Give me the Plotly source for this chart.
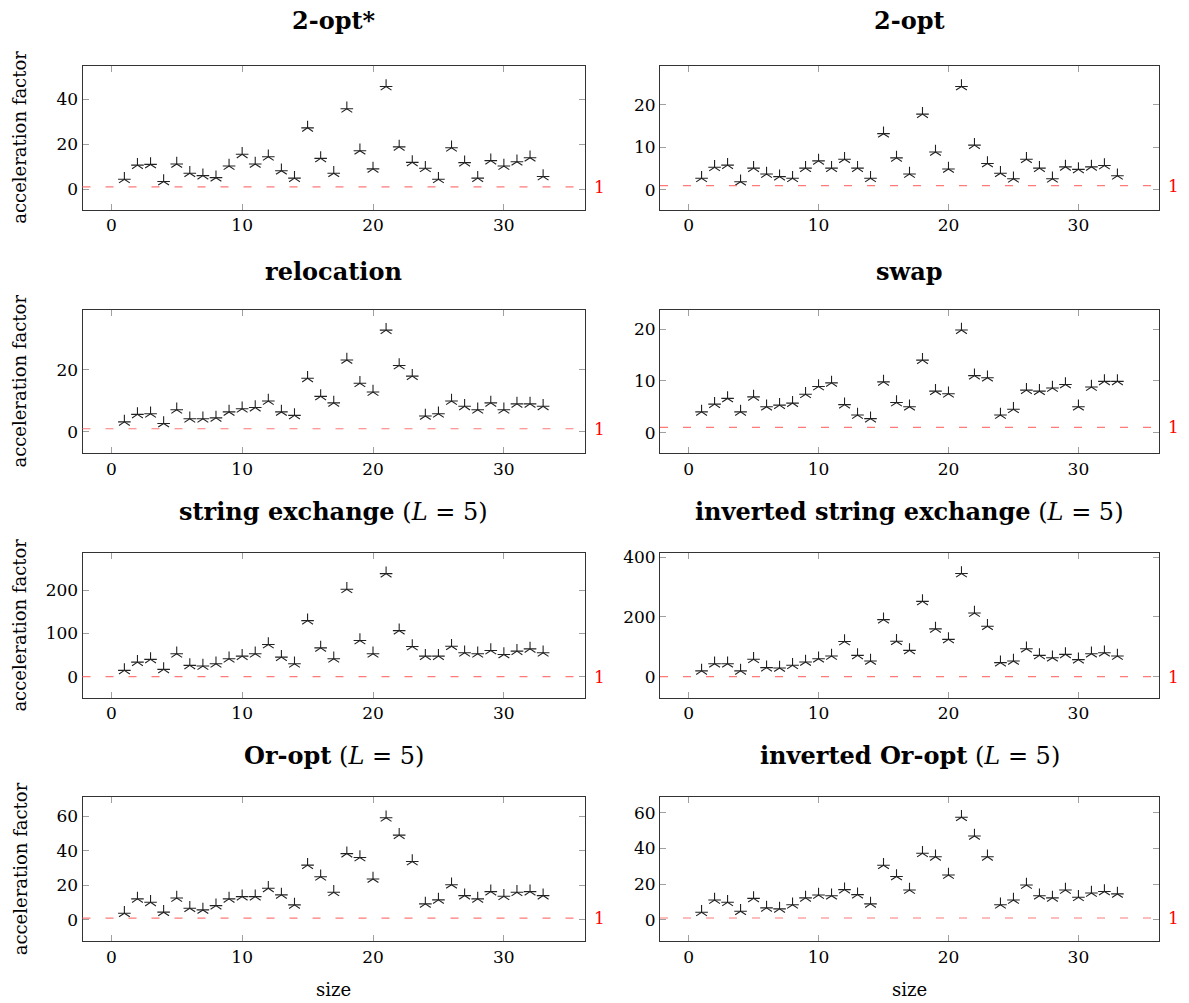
import plotly.graph_objects as go

# ---------------- data ----------------
sizes = list(range(1, 34))

two_opt_star = [4.4, 10.7, 11.0, 3.4, 11.2, 7.1, 6.0, 5.1, 10.3, 15.5, 11.2, 14.4, 8.2, 4.9, 27.3, 13.7, 7.1,
                35.8, 17.1, 9.0, 45.7, 18.8, 11.9, 9.3, 4.4, 18.4, 11.8, 4.9, 12.7, 10.3, 12.2, 14.0, 5.6]
two_opt = [2.7, 5.3, 5.8, 1.9, 5.1, 3.7, 3.1, 2.7, 5.1, 6.8, 5.1, 7.2, 5.1, 2.7, 13.2, 7.5, 3.7,
           17.8, 8.9, 4.9, 24.3, 10.5, 6.2, 3.9, 2.6, 7.2, 5.1, 2.6, 5.4, 4.8, 5.4, 5.7, 3.3]
relocation = [3.2, 5.6, 5.8, 2.7, 7.1, 4.2, 4.2, 4.5, 6.4, 7.4, 7.8, 9.9, 6.4, 5.3, 17.2, 11.4, 9.3,
              23.1, 15.6, 12.8, 32.7, 21.3, 17.9, 5.1, 5.8, 9.9, 8.2, 7.1, 9.3, 7.1, 9.0, 9.0, 8.2]
swap = [4.0, 5.5, 6.6, 4.0, 6.9, 5.0, 5.3, 5.7, 7.4, 8.9, 9.6, 5.4, 3.4, 2.7, 9.8, 5.8, 5.0,
        14.0, 8.0, 7.5, 19.8, 11.0, 10.6, 3.4, 4.5, 8.2, 8.0, 8.6, 9.3, 5.0, 8.8, 9.9, 9.9]
string_exchange = [15.3, 34.3, 40.5, 17.6, 53.4, 26.7, 25.2, 30.5, 41.9, 48, 53.4, 74.8, 45.8, 30.5, 129.7, 67.1, 41.9,
                   202, 83.9, 53.4, 238, 106.8, 70.2, 48, 48, 70.9, 55.7, 53.4, 61, 51.9, 59.5, 64.8, 55.7]
inv_string_exchange = [19.9, 44, 44, 19.9, 58.7, 30.9, 29.8, 38.7, 49.7, 60.7, 69.6, 118, 71.8, 53, 191, 119, 88.4,
                       252, 160, 125, 345, 213, 169, 47.5, 53, 93.9, 71.8, 64, 75.2, 57.5, 77.3, 80.6, 69.6]
or_opt = [3.8, 12.1, 10.1, 4.4, 12.6, 6.7, 5.7, 8.2, 12.1, 13.4, 13.4, 18.2, 14.4, 8.6, 31.6, 24.9, 15.9,
          38.3, 36, 23.6, 59, 49, 33.7, 9.2, 11.5, 20.3, 14, 12.1, 16.3, 13.6, 15.9, 16.3, 14]
inv_or_opt = [4.2, 11.1, 9.8, 4.8, 12, 6.7, 6.1, 8.4, 12.3, 13.9, 13.5, 16.9, 14.1, 8.9, 30.6, 24.3, 16.7,
              37.3, 35.3, 25.1, 57.5, 47, 35.3, 8.4, 11.1, 19.5, 13.5, 12.3, 16.7, 12.6, 15, 15.9, 14.5]

titles = [
    "<b>2-opt*</b>",
    "<b>2-opt</b>",
    "<b>relocation</b>",
    "<b>swap</b>",
    "<b>string exchange</b> (<i>L</i> = 5)",
    "<b>inverted string exchange</b> (<i>L</i> = 5)",
    "<b>Or-opt</b> (<i>L</i> = 5)",
    "<b>inverted Or-opt</b> (<i>L</i> = 5)",
]
series = [two_opt_star, two_opt, relocation, swap, string_exchange, inv_string_exchange, or_opt, inv_or_opt]
reference_level = 1
x_ticks = [0, 10, 20, 30]

# ---------------- layout helpers ----------------
W, H = 1189, 1003
FONT = "DejaVu Serif"
y_ranges = [[-9.2, 55.0], [-4.7, 29.2], [-6.9, 39.2], [-4.0, 23.7],
            [-48, 284.5], [-70, 412], [-12.5, 70.9], [-12.1, 68.7]]
y_dticks = [20, 10, 20, 10, 100, 200, 20, 20]
col_px = [(82.5, 585), (660, 1159)]
row_px = [(60, 205), (305.7, 450), (550.7, 696), (796, 941)]
title_shift = [45, 38, 42, 42]

fig = go.Figure()
layout = dict(
    width=W, height=H, margin=dict(l=0, r=0, t=0, b=0),
    paper_bgcolor="white", plot_bgcolor="white", showlegend=False,
    font=dict(family=FONT, size=16, color="black"),
)
annotations = []
shapes = []

for i, (title, ys) in enumerate(zip(titles, series)):
    r, c = divmod(i, 2)
    n = i + 1
    xa = "x" if n == 1 else f"x{n}"
    ya = "y" if n == 1 else f"y{n}"
    xkey = "xaxis" if n == 1 else f"xaxis{n}"
    ykey = "yaxis" if n == 1 else f"yaxis{n}"
    x0, x1 = col_px[c]
    t0, t1 = row_px[r]
    layout[xkey] = dict(
        domain=[x0 / W, x1 / W], anchor=ya, range=[-2.2, 36.2],
        tickvals=x_ticks, ticks="inside", ticklen=6, tickcolor="#a0a0a0",
        showline=True, linecolor="#333333", linewidth=1, mirror="allticks",
        showgrid=False, zeroline=False, tickfont=dict(size=17, family=FONT),
    )
    layout[ykey] = dict(
        domain=[1 - t1 / H, 1 - t0 / H], anchor=xa, range=y_ranges[i],
        dtick=y_dticks[i], tick0=0, ticks="inside", ticklen=6, tickcolor="#a0a0a0",
        showline=True, linecolor="#333333", linewidth=1, mirror="allticks",
        showgrid=False, zeroline=False, tickfont=dict(size=17, family=FONT),
    )
    # reference line y = 1
    shapes.append(dict(
        type="line", xref=f"{xa} domain", yref=ya, x0=0, x1=1,
        y0=reference_level, y1=reference_level, layer="above",
        line=dict(color="#ff7a7a", width=1.2, dash="8px,15px"),
    ))
    annotations.append(dict(
        text=str(reference_level), xref=f"{xa} domain", yref=ya, x=1, y=reference_level,
        xanchor="left", yanchor="middle", xshift=7, showarrow=False,
        font=dict(color="red", size=17, family=FONT),
    ))
    # panel title
    annotations.append(dict(
        text=title, xref=f"{xa} domain", yref=f"{ya} domain", x=0.5, y=1,
        xanchor="center", yanchor="middle", yshift=title_shift[r], showarrow=False,
        font=dict(size=24, family=FONT, color="black"),
    ))
    # star markers: built from two overlaid symbols
    for sym, sz in (("y-up-open", 9), ("line-ew-open", 9)):
        fig.add_trace(go.Scatter(
            x=sizes, y=ys, mode="markers", xaxis=xa, yaxis=ya,
            marker=dict(symbol=sym, size=sz, color="#222222",
                        line=dict(color="#222222", width=1.1)),
            hoverinfo="x+y",
        ))

# axis titles
for r in range(4):
    t0, t1 = row_px[r]
    annotations.append(dict(
        text="acceleration factor", xref="paper", yref="paper",
        x=20 / W, y=1 - (t0 + t1) / 2 / H, textangle=-90,
        xanchor="center", yanchor="middle", showarrow=False,
        font=dict(size=18, family=FONT),
    ))
for c in range(2):
    x0, x1 = col_px[c]
    annotations.append(dict(
        text="size", xref="paper", yref="paper",
        x=(x0 + x1) / 2 / W, y=1 - 989 / H,
        xanchor="center", yanchor="middle", showarrow=False,
        font=dict(size=18, family=FONT),
    ))

layout["annotations"] = annotations
layout["shapes"] = shapes
fig.update_layout(**layout)
fig.write_html(
    "out.html",
    config={"displayModeBar": False},
    post_script="document.body.style.margin='0';document.body.style.overflow='hidden';",
)
